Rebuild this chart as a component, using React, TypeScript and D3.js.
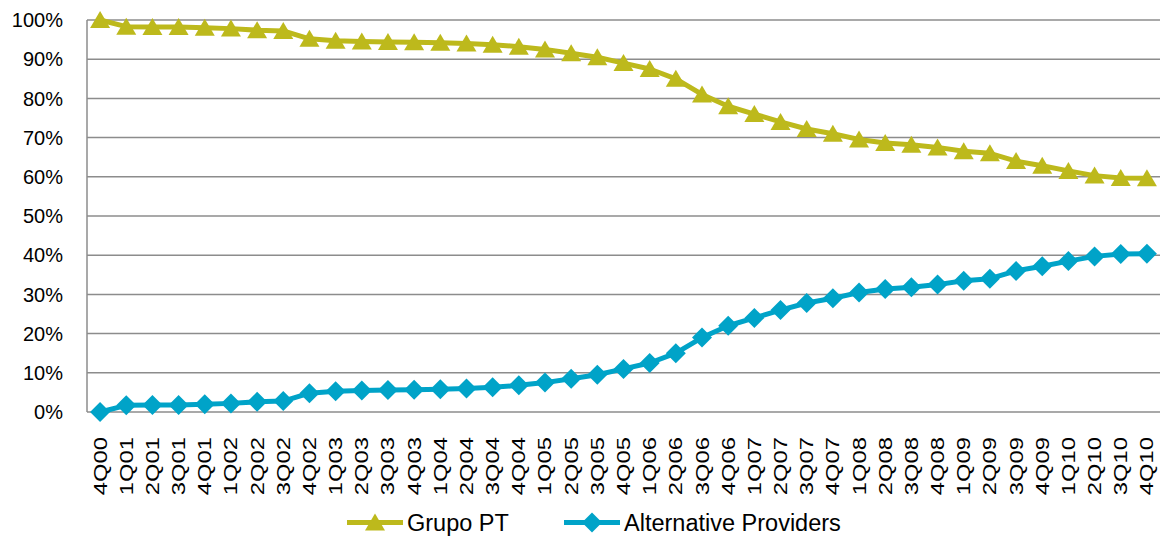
import { useEffect, useRef } from "react"
import * as d3 from "d3"

const quarters = [
  "4Q00", "1Q01", "2Q01", "3Q01", "4Q01", "1Q02", "2Q02", "3Q02", "4Q02",
  "1Q03", "2Q03", "3Q03", "4Q03", "1Q04", "2Q04", "3Q04", "4Q04",
  "1Q05", "2Q05", "3Q05", "4Q05", "1Q06", "2Q06", "3Q06", "4Q06",
  "1Q07", "2Q07", "3Q07", "4Q07", "1Q08", "2Q08", "3Q08", "4Q08",
  "1Q09", "2Q09", "3Q09", "4Q09", "1Q10", "2Q10", "3Q10", "4Q10",
]

const grupoPT = [
  100, 98.3, 98.2, 98.2, 98.0, 97.8, 97.4, 97.2, 95.2,
  94.7, 94.5, 94.4, 94.3, 94.2, 94.0, 93.7, 93.2,
  92.5, 91.5, 90.5, 89.0, 87.5, 85.0, 81.0, 78.0,
  76.0, 74.0, 72.2, 71.0, 69.5, 68.6, 68.2, 67.5,
  66.5, 66.0, 64.0, 62.8, 61.5, 60.3, 59.7, 59.6,
]

const altProviders = [
  0.0, 1.7, 1.8, 1.8, 2.0, 2.2, 2.6, 2.8, 4.8,
  5.3, 5.5, 5.6, 5.7, 5.8, 6.0, 6.3, 6.8,
  7.5, 8.5, 9.5, 11.0, 12.5, 15.0, 19.0, 22.0,
  24.0, 26.0, 27.8, 29.0, 30.5, 31.4, 31.8, 32.5,
  33.5, 34.0, 36.0, 37.2, 38.5, 39.7, 40.3, 40.4,
]

const yTicks = [0, 10, 20, 30, 40, 50, 60, 70, 80, 90, 100]

const seriesNames = ["Grupo PT", "Alternative Providers"]

const triangle = "M0,-9L10,8L-10,8Z"
const diamond = "M0,-10L10,0L0,10L-10,0Z"

export default function App() {
  const svgRef = useRef<SVGSVGElement>(null)

  useEffect(() => {
    d3.select(svgRef.current).selectAll("*").remove()
    if (!svgRef.current) return
    const svg = d3.select(svgRef.current)
    const font = "'Liberation Sans', Arial, sans-serif"
    const margin = { top: 20, right: 5, bottom: 126, left: 87 }
    const width = 1165
    const height = 538

    const x = d3.scaleBand<string>()
      .domain(quarters)
      .range([margin.left, width - margin.right])
      .padding(0)
    const y = d3.scaleLinear()
      .domain([0, 100])
      .range([height - margin.bottom, margin.top])
    const cx = (q: string) => (x(q) as number) + x.bandwidth() / 2

    // gridlines
    svg.append("g")
      .selectAll("line")
      .data(yTicks)
      .join("line")
      .attr("x1", margin.left)
      .attr("x2", width - margin.right)
      .attr("y1", d => y(d))
      .attr("y2", d => y(d))
      .attr("stroke", "#8c8c8c")
      .attr("stroke-width", 1.5)

    svg.append("line")
      .attr("x1", margin.left)
      .attr("x2", margin.left)
      .attr("y1", y(100))
      .attr("y2", y(0))
      .attr("stroke", "#8c8c8c")
      .attr("stroke-width", 1.5)

    // y labels
    svg.append("g")
      .selectAll("text")
      .data(yTicks)
      .join("text")
      .attr("x", 63)
      .attr("y", d => y(d))
      .attr("dy", "0.36em")
      .attr("text-anchor", "end")
      .attr("font-family", font)
      .attr("font-size", 20)
      .attr("fill", "#000")
      .text(d => `${d}%`)

    // x labels
    svg.append("g")
      .selectAll("text")
      .data(quarters)
      .join("text")
      .attr("transform", d => `translate(${cx(d) + 6.5},437) rotate(-90) scale(1.36,1)`)
      .attr("text-anchor", "end")
      .attr("font-family", font)
      .attr("font-size", 17.5)
      .attr("fill", "#000")
      .text(d => d)

    const series = [
      { name: seriesNames[0], values: grupoPT, color: "#bdb91c", marker: triangle },
      { name: seriesNames[1], values: altProviders, color: "#00a3c8", marker: diamond },
    ]

    const line = d3.line<number>()
      .x((d, i) => cx(quarters[i]))
      .y(d => y(d))

    series.forEach(s => {
      svg.append("path")
        .datum(s.values)
        .attr("fill", "none")
        .attr("stroke", s.color)
        .attr("stroke-width", 5)
        .attr("stroke-linejoin", "round")
        .attr("d", line)

      svg.append("g")
        .selectAll("path")
        .data(s.values)
        .join("path")
        .attr("transform", (d, i) => `translate(${cx(quarters[i])},${y(d)})`)
        .attr("d", s.marker)
        .attr("fill", s.color)
    })

    // legend
    const legendX = [347, 564]
    const legendY = 522.5
    series.forEach((s, i) => {
      const g = svg.append("g").attr("transform", `translate(${legendX[i]},${legendY})`)
      g.append("line")
        .attr("x1", 0)
        .attr("x2", 56)
        .attr("stroke", s.color)
        .attr("stroke-width", 5)
      g.append("path")
        .attr("transform", "translate(28,0)")
        .attr("d", s.marker)
        .attr("fill", s.color)
      g.append("text")
        .attr("x", 60)
        .attr("y", 8.5)
        .attr("font-family", font)
        .attr("font-size", 23.5)
        .attr("fill", "#000")
        .text(s.name)
    })
  }, [])

  return (
    <svg
      ref={svgRef}
      width="1165"
      height="538"
      style={{ position: "absolute", left: 0, top: 0, background: "#fff" }}
    ></svg>
  )
}
